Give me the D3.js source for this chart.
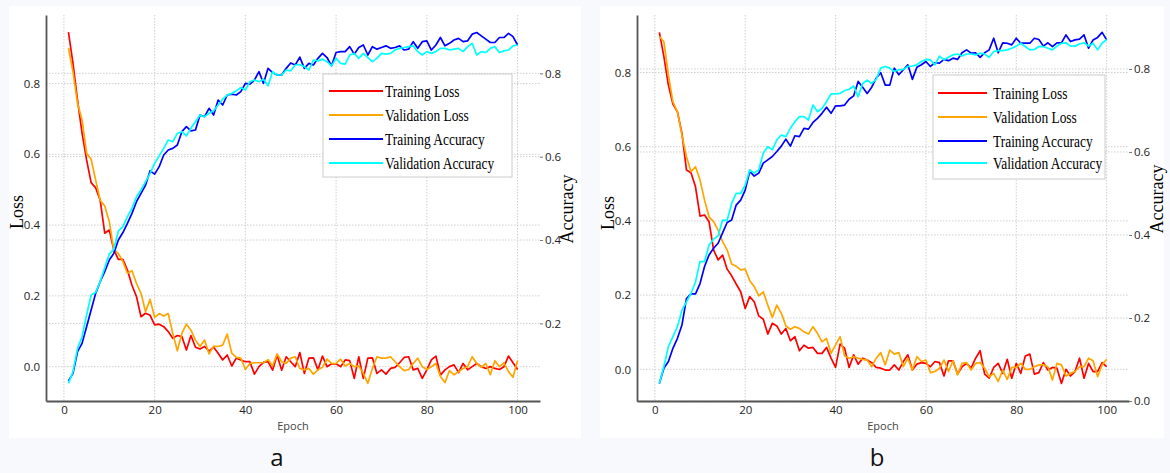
<!DOCTYPE html>
<html>
<head>
<meta charset="utf-8">
<script src="https://cdn.jsdelivr.net/npm/d3@7"></script>
<style>
  body { margin: 0; background: #f8f9fc; }
  svg { display: block; }
</style>
</head>
<body>
<script>
// epochs 1..100, values
const epochs = d3.range(1, 101);
const xTicks = [0, 20, 40, 60, 80, 100];
const lossTicks = [0, 0.2, 0.4, 0.6, 0.8];
const accTicksA = [0.2, 0.4, 0.6, 0.8];
const accTicksB = [0, 0.2, 0.4, 0.6, 0.8];
const seriesNames = ["Training Loss", "Validation Loss", "Training Accuracy", "Validation Accuracy"];
const seriesColors = ["#ff0000", "#ffa500", "#0000ff", "#00ffff"];

// panel a
const lossTrainA = [0.945,0.857,0.753,0.66,0.584,0.52,0.505,0.47,0.377,0.386,
  0.33,0.303,0.303,0.273,0.23,0.198,0.141,0.151,0.145,0.118,
  0.12,0.113,0.099,0.08,0.088,0.085,0.047,0.088,0.055,0.05,
  0.057,0.044,0.055,0.038,0.019,0.033,0.002,0.024,0.019,0.014,
  0.014,-0.021,0.0,0.012,0.014,-0.01,0.033,-0.01,0.028,0.014,
  0.0,0.04,-0.019,0.024,0.025,-0.009,0.03,0.0,0.008,0.008,
  0.0,0.019,0.017,-0.033,0.028,-0.033,0.024,0.025,-0.019,-0.009,
  -0.021,-0.005,-0.002,0.011,0.026,0.028,-0.009,-0.005,-0.033,-0.009,
  0.019,0.03,-0.024,-0.009,0.0,0.005,-0.017,0.009,-0.009,0.0,
  0.009,0.0,-0.005,0.0,-0.005,-0.008,0.0,0.03,0.011,-0.008];
const lossValA = [0.9,0.833,0.744,0.697,0.603,0.586,0.527,0.47,0.454,0.41,
  0.33,0.32,0.297,0.264,0.271,0.235,0.207,0.155,0.19,0.139,
  0.15,0.143,0.15,0.094,0.045,0.094,0.12,0.103,0.075,0.057,
  0.075,0.036,0.058,0.057,0.061,0.092,0.038,0.026,0.024,-0.008,
  0.009,0.011,0.011,0.011,0.02,0.002,0.036,0.014,0.009,0.024,
  0.028,-0.005,-0.009,-0.005,-0.021,-0.009,-0.002,0.021,0.009,0.009,
  0.021,0.002,0.009,0.0,0.002,-0.019,-0.047,-0.005,0.028,0.024,
  0.024,0.028,0.014,0.0,-0.011,-0.008,0.009,0.024,0.0,-0.008,
  0.0,0.009,-0.028,-0.045,-0.011,-0.023,-0.014,-0.005,0.0,0.028,
  0.009,-0.002,0.009,-0.023,0.017,0.0,0.011,-0.014,-0.03,0.017];
const accTrainA = [0.062,0.08,0.132,0.152,0.192,0.232,0.272,0.3,0.324,0.352,
  0.368,0.4,0.418,0.44,0.464,0.492,0.512,0.532,0.566,0.558,
  0.576,0.604,0.616,0.62,0.628,0.66,0.672,0.662,0.664,0.7,
  0.696,0.716,0.7,0.736,0.724,0.748,0.75,0.748,0.756,0.776,
  0.774,0.784,0.804,0.776,0.812,0.802,0.796,0.796,0.812,0.825,
  0.82,0.839,0.812,0.824,0.82,0.836,0.848,0.838,0.818,0.85,
  0.852,0.852,0.864,0.846,0.862,0.868,0.844,0.864,0.858,0.862,
  0.866,0.86,0.862,0.866,0.856,0.858,0.876,0.86,0.876,0.878,
  0.856,0.868,0.886,0.866,0.872,0.88,0.884,0.876,0.878,0.894,
  0.898,0.89,0.882,0.874,0.874,0.886,0.886,0.896,0.888,0.868];
const accValA = [0.056,0.084,0.14,0.168,0.22,0.268,0.274,0.3,0.334,0.366,
  0.378,0.422,0.432,0.456,0.476,0.504,0.52,0.54,0.56,0.584,
  0.602,0.62,0.64,0.636,0.656,0.66,0.65,0.668,0.684,0.7,
  0.696,0.704,0.71,0.724,0.738,0.748,0.752,0.758,0.766,0.76,
  0.78,0.784,0.78,0.786,0.77,0.804,0.796,0.796,0.808,0.806,
  0.82,0.821,0.816,0.808,0.832,0.83,0.834,0.828,0.818,0.836,
  0.824,0.822,0.844,0.848,0.836,0.848,0.838,0.828,0.836,0.848,
  0.846,0.848,0.856,0.86,0.862,0.864,0.866,0.852,0.844,0.852,
  0.848,0.852,0.86,0.86,0.856,0.858,0.86,0.852,0.864,0.872,
  0.844,0.852,0.85,0.86,0.864,0.85,0.854,0.856,0.866,0.868];

// panel b
const lossTrainB = [0.908,0.843,0.766,0.715,0.694,0.636,0.537,0.53,0.492,0.413,
  0.416,0.398,0.322,0.295,0.308,0.27,0.252,0.23,0.209,0.164,
  0.196,0.182,0.144,0.135,0.095,0.124,0.117,0.095,0.11,0.077,
  0.088,0.05,0.065,0.057,0.059,0.043,0.043,0.059,0.03,0.005,
  0.068,0.057,0.005,0.039,0.014,0.03,0.025,0.018,0.005,0.003,
  -0.002,-0.002,0.012,-0.002,0.021,0.039,-0.002,0.014,0.018,0.016,
  0.007,0.021,0.018,-0.018,0.023,0.023,-0.013,0.007,0.016,0.003,
  0.03,0.05,-0.013,-0.024,0.005,0.016,-0.011,0.027,-0.024,0.016,
  -0.011,0.036,0.041,-0.013,-0.009,0.018,-0.002,0.005,0.003,-0.038,
  0.0,-0.018,-0.006,0.03,-0.024,0.016,-0.006,-0.006,0.018,0.007];
const lossValB = [0.897,0.883,0.793,0.721,0.694,0.631,0.573,0.533,0.546,0.51,
  0.456,0.411,0.398,0.375,0.344,0.322,0.284,0.278,0.268,0.27,
  0.239,0.223,0.198,0.209,0.173,0.14,0.173,0.151,0.117,0.108,
  0.115,0.11,0.101,0.095,0.115,0.097,0.074,0.083,0.043,0.066,
  0.088,0.036,0.03,0.034,0.03,0.027,0.025,0.007,0.03,0.045,
  0.012,0.052,0.041,0.045,0.007,0.03,-0.002,0.034,0.021,0.025,
  -0.009,-0.006,0.003,0.025,-0.006,0.023,-0.015,0.016,0.018,-0.002,
  0.016,0.018,0.003,-0.02,-0.011,-0.033,-0.002,-0.027,0.005,0.005,
  0.016,0.0,0.0,0.007,0.012,0.012,0.007,-0.029,0.016,0.012,
  -0.018,-0.011,-0.006,0.007,0.007,0.03,0.023,-0.02,0.012,0.027];
const accTrainB = [0.042,0.079,0.095,0.127,0.151,0.183,0.247,0.258,0.258,0.283,
  0.324,0.352,0.368,0.38,0.405,0.43,0.436,0.472,0.484,0.508,
  0.553,0.542,0.549,0.573,0.581,0.589,0.601,0.614,0.631,0.614,
  0.639,0.637,0.657,0.655,0.671,0.681,0.693,0.708,0.693,0.711,
  0.711,0.713,0.727,0.735,0.77,0.756,0.741,0.756,0.778,0.791,
  0.761,0.761,0.802,0.786,0.798,0.81,0.775,0.804,0.81,0.818,
  0.806,0.815,0.814,0.823,0.82,0.826,0.823,0.839,0.846,0.838,
  0.839,0.828,0.839,0.846,0.874,0.839,0.863,0.862,0.858,0.874,
  0.862,0.862,0.862,0.874,0.871,0.855,0.863,0.854,0.863,0.863,
  0.882,0.866,0.87,0.872,0.882,0.85,0.87,0.876,0.888,0.87];
const accValB = [0.042,0.083,0.131,0.155,0.179,0.219,0.239,0.259,0.287,0.336,
  0.336,0.376,0.39,0.398,0.436,0.435,0.476,0.5,0.5,0.52,
  0.557,0.549,0.557,0.597,0.613,0.605,0.629,0.641,0.637,0.657,
  0.673,0.685,0.685,0.677,0.713,0.697,0.705,0.721,0.74,0.74,
  0.741,0.748,0.751,0.759,0.733,0.765,0.773,0.765,0.775,0.802,
  0.806,0.802,0.794,0.798,0.799,0.806,0.807,0.81,0.818,0.823,
  0.822,0.81,0.831,0.822,0.828,0.834,0.836,0.831,0.836,0.836,
  0.834,0.838,0.836,0.828,0.842,0.844,0.844,0.846,0.85,0.855,
  0.862,0.854,0.846,0.847,0.854,0.854,0.85,0.846,0.855,0.862,
  0.863,0.855,0.855,0.86,0.863,0.855,0.862,0.846,0.862,0.871];

const width = 1170, height = 473;
const svg = d3.select("body").append("svg")
    .attr("width", width).attr("height", height);

// white picture areas on the light page
svg.append("rect").attr("x", 9).attr("y", 6).attr("width", 572).attr("height", 432).attr("fill", "#fff");
svg.append("rect").attr("x", 600).attr("y", 6).attr("width", 564).attr("height", 432).attr("fill", "#fff");

const panels = [
  { left: 46, right: 540, top: 15, bottom: 401,
    loss: [lossTrainA, lossValA], acc: [accTrainA, accValA],
    lossDomain: [-0.097, 0.9935], accDomain: [0.0137, 0.94], accTicks: accTicksA,
    lossLabel: [17, 212], accLabel: [567, 209], epochLabel: [293, 426],
    legend: { x: 323, y: 74, w: 189, h: 103, l0: 329, l1: 383, tx: 385, rows: [91, 115, 139, 163] },
    tag: "a", tagPos: [277, 466] },
  { left: 637, right: 1129, top: 15, bottom: 401,
    loss: [lossTrainB, lossValB], acc: [accTrainB, accValB],
    lossDomain: [-0.0854, 0.955], accDomain: [0, 0.93], accTicks: accTicksB,
    lossLabel: [608, 213], accLabel: [1157, 199], epochLabel: [883, 426],
    legend: { x: 933, y: 75, w: 172, h: 104, l0: 938, l1: 987, tx: 993, rows: [93, 117, 141, 163] },
    tag: "b", tagPos: [877, 466] }
];

function drawPanel(p) {
  const g = svg.append("g");
  const x = d3.scaleLinear().domain([-3.95, 104.95]).range([p.left, p.right]);
  const yLoss = d3.scaleLinear().domain(p.lossDomain).range([p.bottom, p.top]);
  const yAcc = d3.scaleLinear().domain(p.accDomain).range([p.bottom, p.top]);

  // dotted grid from both y axes and the x axis
  const grid = g.append("g").attr("stroke", "#cfcfcf").attr("stroke-width", 1)
      .attr("stroke-dasharray", "1.5,1.5");
  grid.selectAll(".gx").data(xTicks).enter().append("line")
      .attr("x1", d => x(d)).attr("x2", d => x(d))
      .attr("y1", p.top).attr("y2", p.bottom);
  grid.selectAll(".gl").data(lossTicks).enter().append("line")
      .attr("x1", p.left).attr("x2", p.right)
      .attr("y1", d => yLoss(d)).attr("y2", d => yLoss(d));
  grid.selectAll(".ga").data(p.accTicks).enter().append("line")
      .attr("x1", p.left).attr("x2", p.right)
      .attr("y1", d => yAcc(d)).attr("y2", d => yAcc(d));

  // axes
  const xAxis = g.append("g").attr("transform", "translate(0," + p.bottom + ")")
      .call(d3.axisBottom(x).tickValues(xTicks).tickFormat(d3.format("d"))
        .tickSize(0).tickSizeOuter(0).tickPadding(5));
  const yAxisL = g.append("g").attr("transform", "translate(" + p.left + ",0)")
      .call(d3.axisLeft(yLoss).tickValues(lossTicks).tickFormat(d3.format(".1f"))
        .tickSize(0).tickSizeOuter(0).tickPadding(6));
  const yAxisR = g.append("g").attr("transform", "translate(" + p.right + ",0)")
      .call(d3.axisRight(yAcc).tickValues(p.accTicks).tickFormat(d3.format(".1f"))
        .tickSize(3).tickSizeOuter(0).tickPadding(2));
  yAxisR.select(".domain").remove();
  yAxisR.selectAll(".tick line").attr("stroke", "#777");
  [xAxis, yAxisL].forEach(a => a.select(".domain").attr("stroke", "#555").attr("stroke-width", 1.8));
  [xAxis, yAxisL, yAxisR].forEach(a => a.selectAll("text")
      .attr("font-family", "'Open Sans', sans-serif").attr("font-size", 11.5).attr("fill", "#222"));

  // curves
  const lineLoss = d3.line().x((d, i) => x(epochs[i])).y(d => yLoss(d));
  const lineAcc = d3.line().x((d, i) => x(epochs[i])).y(d => yAcc(d));
  p.loss.forEach((s, k) => g.append("path").datum(s).attr("d", lineLoss)
      .attr("fill", "none").attr("stroke", seriesColors[k]).attr("stroke-width", 1.7)
      .attr("stroke-linejoin", "round"));
  p.acc.forEach((s, k) => g.append("path").datum(s).attr("d", lineAcc)
      .attr("fill", "none").attr("stroke", seriesColors[k + 2]).attr("stroke-width", 1.7)
      .attr("stroke-linejoin", "round"));

  // legend
  const L = p.legend;
  g.append("rect").attr("x", L.x).attr("y", L.y).attr("width", L.w).attr("height", L.h)
      .attr("fill", "#fff").attr("stroke", "#cccccc").attr("stroke-width", 1);
  seriesNames.forEach((name, k) => {
    g.append("line").attr("x1", L.l0).attr("x2", L.l1)
        .attr("y1", L.rows[k]).attr("y2", L.rows[k])
        .attr("stroke", seriesColors[k]).attr("stroke-width", 2.2);
    g.append("text").attr("transform", "translate(" + L.tx + "," + L.rows[k] + ") scale(0.79,1)")
        .attr("dy", "0.35em").attr("font-family", "'Liberation Serif', serif")
        .attr("font-size", 17).attr("fill", "#000").text(name);
  });

  // axis titles
  g.append("text").attr("transform", "translate(" + p.lossLabel[0] + "," + p.lossLabel[1] + ") rotate(-90)")
      .attr("text-anchor", "middle").attr("dy", "0.35em")
      .attr("font-family", "'Liberation Serif', serif").attr("font-size", 18).attr("fill", "#000")
      .text("Loss");
  g.append("text").attr("transform", "translate(" + p.accLabel[0] + "," + p.accLabel[1] + ") rotate(-90)")
      .attr("text-anchor", "middle").attr("dy", "0.35em")
      .attr("font-family", "'Liberation Serif', serif").attr("font-size", 18).attr("fill", "#000")
      .text("Accuracy");
  g.append("text").attr("x", p.epochLabel[0]).attr("y", p.epochLabel[1])
      .attr("text-anchor", "middle").attr("dy", "0.35em")
      .attr("font-family", "'Open Sans', sans-serif").attr("font-size", 11).attr("fill", "#444")
      .text("Epoch");
  g.append("text").attr("x", p.tagPos[0]).attr("y", p.tagPos[1])
      .attr("text-anchor", "middle")
      .attr("font-family", "'Open Sans', sans-serif").attr("font-size", 24).attr("fill", "#111")
      .text(p.tag);
}

panels.forEach(drawPanel);
</script>
</body>
</html>
